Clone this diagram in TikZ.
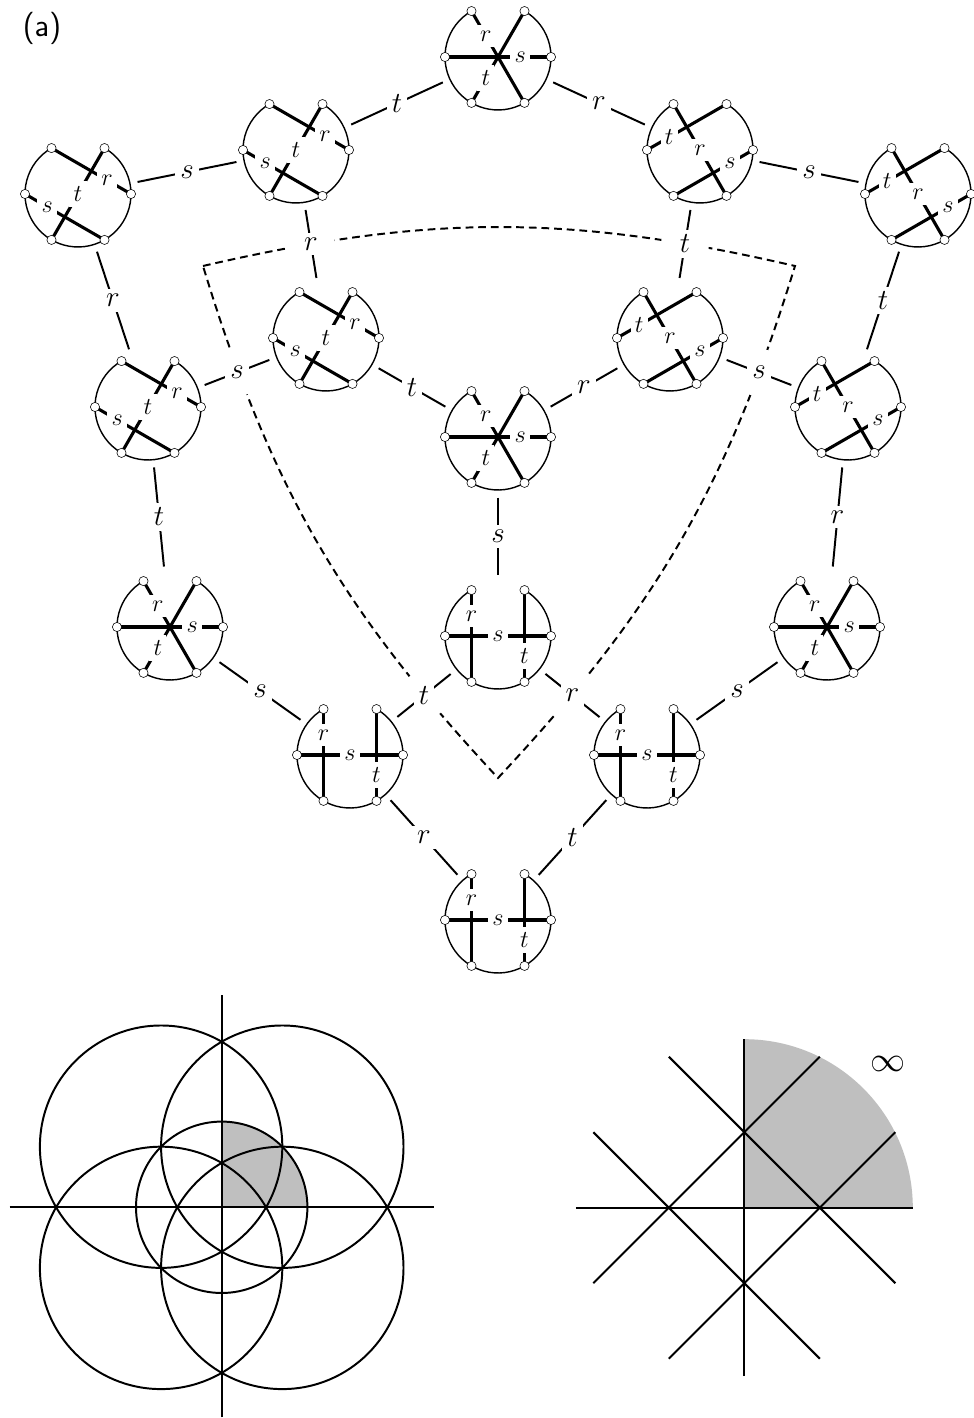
\documentclass[tikz,border=0pt]{standalone}
\usepackage{amsmath}
\usetikzlibrary{arrows.meta, positioning, calc}

\newcommand{\starchords}[1]{
    \draw[chord] (#1.120) -- node[inlab, pos=.27] {$r$} (#1.300);
    \draw[chord] (#1.180) -- node[inlab, pos=.71] {$s$} (#1.0);
    \draw[chord] (#1.240) -- node[inlab, pos=.27] {$t$} (#1.60);
}
\newcommand{\leftchords}[1]{
    \draw[chord] (#1.120) -- node[inlab, pos=.70] {$r$} (#1.0);
    \draw[chord] (#1.180) -- node[inlab, pos=.28] {$s$} (#1.300);
    \draw[chord] (#1.240) -- node[inlab, pos=.50] {$t$} (#1.60);
}
\newcommand{\rightchords}[1]{
    \draw[chord] (#1.120) -- node[inlab, pos=.50] {$r$} (#1.300);
    \draw[chord] (#1.240) -- node[inlab, pos=.71] {$s$} (#1.0);
    \draw[chord] (#1.180) -- node[inlab, pos=.28] {$t$} (#1.60);
}
\newcommand{\crosschords}[1]{
    \draw[chord] (#1.120) -- node[inlab, pos=.28] {$r$} (#1.240);
    \draw[chord] (#1.180) -- node[inlab, pos=.50] {$s$} (#1.0);
    \draw[chord] (#1.60) -- node[inlab, pos=.72] {$t$} (#1.300);
}

\begin{document}
\begin{tikzpicture}[
        x=0.025cm, y=0.025cm,
        disc/.style={circle, minimum size=2.65cm, inner sep=0pt, outer sep=0pt},
        vertex/.style={circle, draw, fill=white, line width=0.4pt, minimum size=0.23cm, inner sep=0pt},
        chord/.style={line width=2.2pt},
        rim/.style={line width=1pt},
        link/.style={line width=1.4pt, shorten <=5.5pt, shorten >=5.5pt},
        inlab/.style={fill=white, inner xsep=3pt, inner ysep=4pt, font=\fontsize{16.5}{20}\selectfont},
        edgelab/.style={fill=white, inner sep=3.5pt, font=\fontsize{21}{25}\selectfont},
        bound/.style={line width=1.4pt, dash pattern=on 5.5pt off 3.5pt},
        boundgap/.style={circle, fill=white, minimum size=1.2cm, inner sep=0pt},
        axis/.style={line width=1.4pt},
        quarter/.style={fill=black!25}
    ]
    \useasboundingbox (0,0) rectangle (973,1418);

    \node[font=\sffamily\fontsize{23}{28}\selectfont] (part) at (42,1390) {(a)};

    % fundamental region
    \coordinate (bndl) at (203,1152);
    \coordinate (bndr) at (795,1152);
    \coordinate (bndb) at (498,640);
    \draw[bound] (bndl) to[bend left=13] (bndr) to[bend left=13] (bndb) to[bend left=13] (bndl);

    \foreach \n/\x/\y in {top/498/1361, ul/296/1268, ur/700/1268, fl/78/1224, fr/918/1224,
            il/326/1080, ir/670/1080, ml/148/1011, mr/848/1011, cen/498/981,
            sl/170/791, sr/827/791, dc/498/782, dl/350/663, dr/647/663, bot/498/498}
        \node[disc] (\n) at (\x,\y) {};

    % the dashed line stops short of the labels it crosses
    \foreach \a/\b in {ul/il, ur/ir, ml/il, mr/ir, dc/dl, dc/dr}
        \node[boundgap] (gap\a\b) at ($(\a)!.5!(\b)$) {};

    \foreach \n in {top, cen, sl, sr} {\starchords{\n}}
    \foreach \n in {ul, fl, il, ml} {\leftchords{\n}}
    \foreach \n in {ur, fr, ir, mr} {\rightchords{\n}}
    \foreach \n in {dc, dl, dr, bot} {\crosschords{\n}}

    \foreach \n in {top, ul, ur, fl, fr, il, ir, ml, mr, cen, sl, sr, dc, dl, dr, bot} {
        \draw[rim] (\n.120) arc[start angle=120, end angle=420, radius=53];
        \foreach \v in {0,60,...,300}
            \node[vertex] (\n v\v) at (\n.\v) {};
    }

    \foreach \a/\b/\l in {top/ul/t, top/ur/r, ul/fl/s, ur/fr/s, ul/il/r, ur/ir/t, fl/ml/r, fr/mr/t,
            ml/sl/t, mr/sr/r, ml/il/s, mr/ir/s, il/cen/t, ir/cen/r, cen/dc/s, sl/dl/s, sr/dr/s,
            dc/dl/t, dc/dr/r, dl/bot/r, dr/bot/t}
        \draw[link] (\a) -- node[edgelab] {$\l$} (\b);

    % circles
    \begin{scope}[shift={(221.7,210.7)}]
        \fill[quarter] (0,0) -- (85.7,0) arc[start angle=0, end angle=90, radius=85.7] -- cycle;
        \draw[axis] (-212,0) -- (212,0);
        \draw[axis] (0,-210) -- (0,212);
        \draw[axis] (0,0) circle[radius=85.7];
        \foreach \i in {-1,1}
            \foreach \j in {-1,1}
                \draw[axis] (60.6*\i,60.6*\j) circle[radius=121.2];
    \end{scope}

    % lines
    \begin{scope}[shift={(744.3,210.3)}]
        \fill[quarter] (0,0) -- (168.5,0) arc[start angle=0, end angle=90, radius=168.5] -- cycle;
        \draw[axis] (-168.5,0) -- (168.5,0);
        \draw[axis] (0,-168.5) -- (0,168.5);
        \draw[axis] (-75.5,151) -- (151,-75.5);
        \draw[axis] (-151,75.5) -- (75.5,-151);
        \draw[axis] (-151,-75.5) -- (75.5,151);
        \draw[axis] (-75.5,-151) -- (151,75.5);
        \node[font=\fontsize{23}{28}\selectfont] (inf) at (143.4,143.4) {$\infty$};
    \end{scope}
\end{tikzpicture}
\end{document}
